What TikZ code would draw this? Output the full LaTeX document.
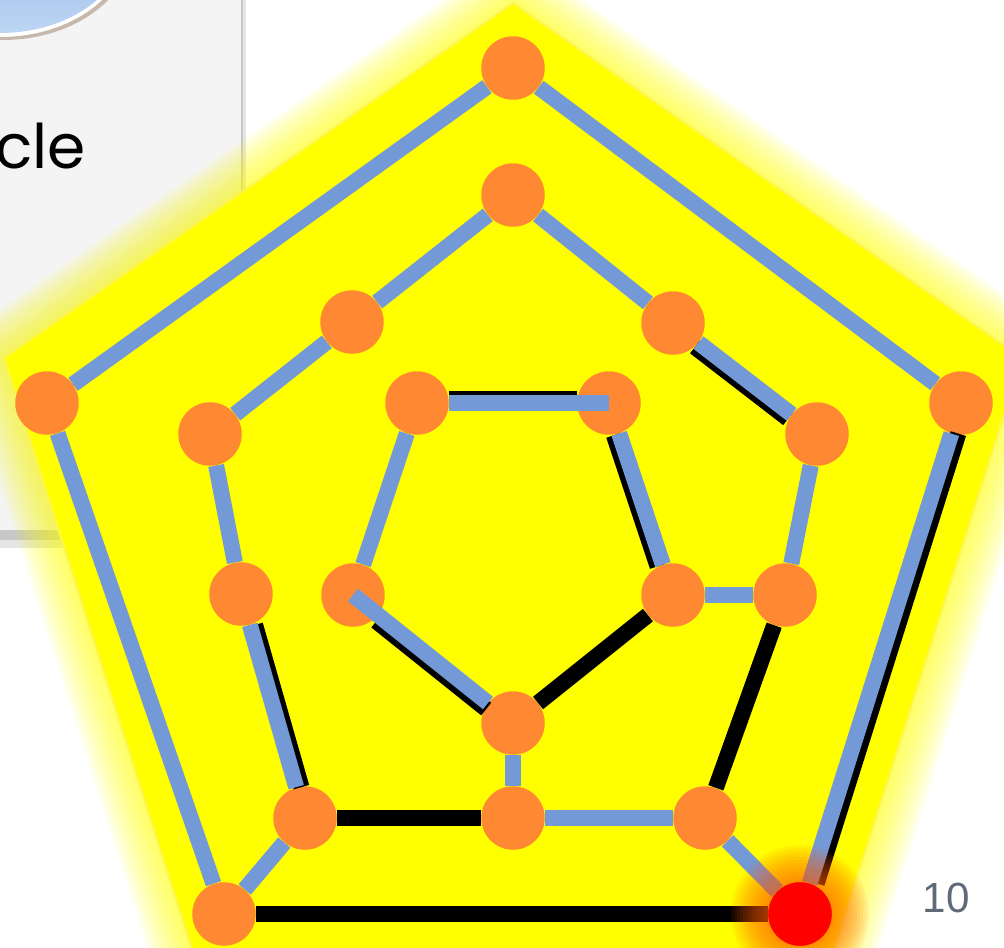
\documentclass[tikz,border=0pt]{standalone}
\usepackage{fontspec}
\setmainfont{Liberation Sans}
\newfontfamily\comicfont{Poppins}
\usetikzlibrary{calc}
\definecolor{gyellow}{RGB}{255,255,0}
\definecolor{vorange}{RGB}{255,136,51}
\definecolor{eblue}{RGB}{115,153,214}
\definecolor{boxgray}{RGB}{244,244,244}
\definecolor{pagegray}{RGB}{95,106,120}
\definecolor{capblue}{RGB}{160,196,236}
\definecolor{glowred}{RGB}{255,90,0}

\begin{document}
\begin{tikzpicture}[x=0.02cm, y=-0.02cm,
  vert/.style={circle, fill=vorange, inner sep=0pt, minimum size=1.27cm},
  hot/.style={circle, fill=red, inner sep=0pt, minimum size=1.27cm},
  bl/.style={draw=eblue, line width=0.32cm},
  bk/.style={draw=black, line width=0.32cm},
  glow/.style={draw=gyellow, line join=round}
]
\useasboundingbox (0,0) rectangle (1004,947);
\clip (0,0) rectangle (1004,947);

\fill[black!10] (0,0) rectangle (246,548);
\fill[black!22] (0,0) rectangle (243,540);
\fill[boxgray] (0,0) rectangle (241,530);
\fill[brown!40!gray, opacity=0.5] (3,-57) ellipse [x radius=2.6cm, y radius=1.94cm];
\fill[white] (0,-60) ellipse [x radius=2.6cm, y radius=1.94cm];
\shade[top color=capblue!80!blue, bottom color=capblue!70!white] (0,-62) ellipse [x radius=2.56cm, y radius=1.9cm];
\node[anchor=base east, font=\comicfont\fontsize{35}{42}\selectfont, inner sep=0pt] (cyc) at (86,168) {cle};

\coordinate (p1) at (513,3);
\coordinate (p2) at (4,358);
\coordinate (p3) at (205,990);
\coordinate (p4) at (821,990);
\coordinate (p5) at (1022,358);
\foreach \w in {4,8,...,48}
  \draw[glow, line width=\w pt, opacity=0.07] (p1) -- (p2) -- (p3) -- (p4) -- (p5) -- cycle;
\fill[gyellow] (p1) -- (p2) -- (p3) -- (p4) -- (p5) -- cycle;
\draw[yellow!70!white, line width=1.2pt, line join=round] (p1) -- (p2) -- (p3) -- (p4) -- (p5) -- cycle;

\node[vert] (o1) at (513,68) {};
\node[vert] (o2) at (47,403) {};
\node[vert] (o3) at (224,914) {};
\node[hot]  (o4) at (800,914) {};
\node[vert] (o5) at (961,403) {};
\node[vert] (m1) at (513,195) {};
\node[vert] (m2) at (352,322) {};
\node[vert] (m3) at (210,434) {};
\node[vert] (m4) at (241,594) {};
\node[vert] (m5) at (305,818) {};
\node[vert] (m6) at (513,818) {};
\node[vert] (m7) at (705,818) {};
\node[vert] (m8) at (785,595) {};
\node[vert] (m9) at (817,434) {};
\node[vert] (m10) at (673,323) {};
\node[vert] (i1) at (417,403) {};
\node[vert] (i2) at (609,403) {};
\node[vert] (i3) at (673,595) {};
\node[vert] (i4) at (513,723) {};
\node[vert] (i5) at (353,595) {};

\draw[bk] (o3) -- (o4);
\draw[bk] (m5) -- (m6);
\draw[bk] (i3) -- (i4);
\draw[bk] (m7) -- (m8);
\draw[bk, transform canvas={xshift=4pt}] (o4) -- (o5);
\draw[bk, transform canvas={xshift=3pt}] (m4) -- (m5);
\draw[bk, transform canvas={xshift=-2pt, yshift=-2.5pt}] (m9) -- (m10);
\draw[bk, transform canvas={xshift=-3pt, yshift=-1pt}] (i2) -- (i3);
\draw[bk, transform canvas={xshift=-1pt, yshift=-3.5pt}] (i5) -- (i4);
\draw[bk, transform canvas={yshift=2pt}] (i1) -- (i2);

\draw[bl] (o1) -- (o2);
\draw[bl] (o2) -- (o3);
\draw[bl] (o4) -- (o5);
\draw[bl] (o5) -- (o1);
\draw[bl] (o3) -- (m5);
\draw[bl] (o4) -- (m7);
\draw[bl] (m1) -- (m2);
\draw[bl] (m2) -- (m3);
\draw[bl] (m3) -- (m4);
\draw[bl] (m4) -- (m5);
\draw[bl] (m6) -- (m7);
\draw[bl] (m8) -- (m9);
\draw[bl] (m9) -- (m10);
\draw[bl] (m10) -- (m1);
\draw[bl] (i2) -- (i3);
\draw[bl] (i5) -- (i1);
\draw[bl] (i3) -- (m8);
\draw[bl] (i4) -- (m6);
\draw[bl] (i1) -- (i2.center);
\draw[bl] (i5.center) -- (i4);

\foreach \r in {0.66,0.72,...,1.4}
  \fill[glowred, opacity=0.08] (o4) circle [radius=\r cm];
\fill[red] (o4) circle [radius=0.635cm];

\node[font=\fontsize{24}{28}\selectfont, text=pagegray] (pg) at (946,898) {10};
\end{tikzpicture}
\end{document}
